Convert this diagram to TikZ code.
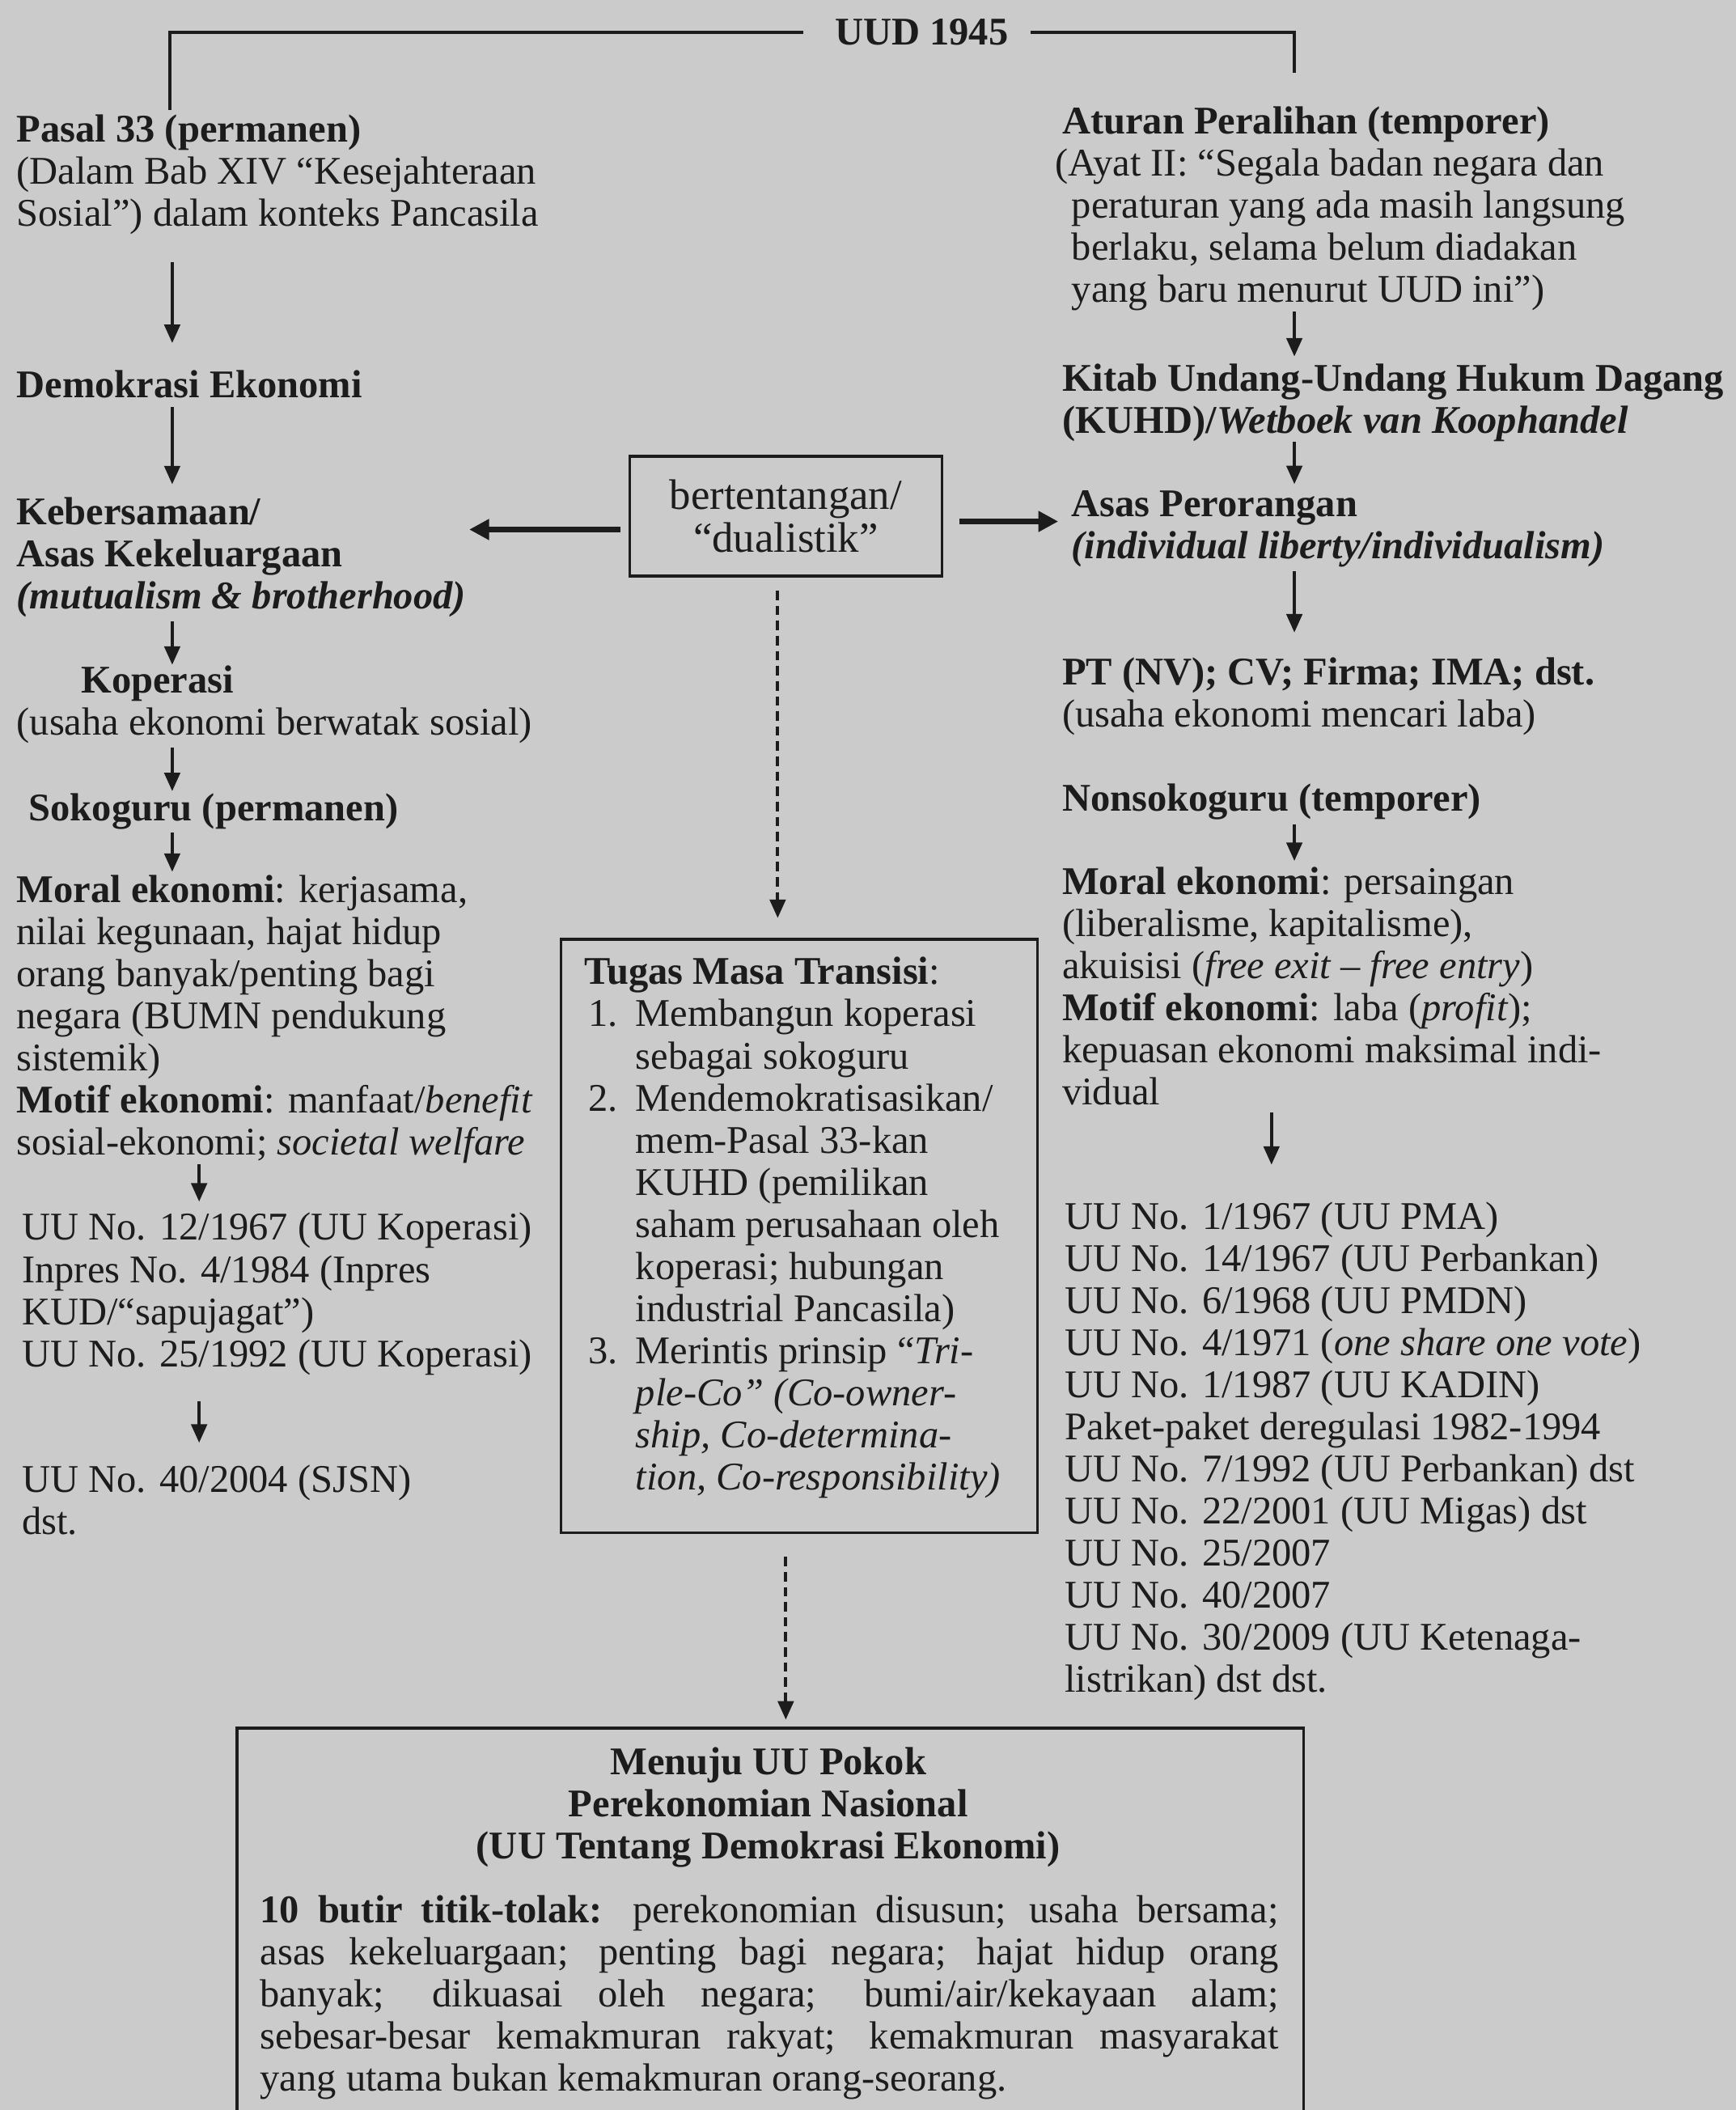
\documentclass[tikz,border=0pt]{standalone}
\usepackage{fontspec}
\setmainfont{Liberation Serif}
\usetikzlibrary{arrows.meta, positioning, calc}
\definecolor{paper}{RGB}{203,203,203}
\definecolor{ink}{RGB}{28,28,28}
\newcommand{\teks}{\fontsize{13.8}{14.8}\selectfont}
\newcommand{\butir}[1]{\hspace*{1.4pt}\makebox[16.6pt][l]{#1}}
\newcommand{\lanjut}{\hspace*{18pt}}

\begin{document}
\begin{tikzpicture}[
            x=0.016628cm, y=-0.016628cm,
            txt/.style={font=\teks, text=ink, inner sep=0pt, align=left, anchor=north west},
            frame/.style={draw=ink, line width=1pt, inner sep=0pt},
            flow/.style={-{Triangle[length=6.5pt,width=5.5pt]}, line width=1.1pt, draw=ink},
            thickflow/.style={-{Triangle[length=7pt,width=7pt]}, line width=1.8pt, draw=ink},
            dashflow/.style={flow, dash pattern=on 3.3pt off 2pt},
            rule/.style={line width=1.1pt, draw=ink},
        ]
            % Background
            \useasboundingbox (0,0) rectangle (1290,1568);
            \fill[paper] (0,0) rectangle (1290,1568);

            % Arrow columns
            \coordinate (colL) at (128,0);
            \coordinate (colLb) at (148,0);
            \coordinate (colR) at (962,0);
            \coordinate (colRb) at (945,0);

            % Top
            \node[font=\teks\bfseries, text=ink, inner sep=0pt] (uud) at (685,24) {UUD 1945};

            % Left column
            \node[txt] (pasal) at (12,85) {\textbf{Pasal 33 (permanen)}\\(Dalam Bab XIV “Kesejahteraan\\Sosial”) dalam konteks Pancasila};
            \node[txt] (demo) at (12,275) {\textbf{Demokrasi Ekonomi}};
            \node[txt] (keber) at (12,369) {\textbf{Kebersamaan/}\\\textbf{Asas Kekeluargaan}\\\textbf{\textit{(mutualism \& brotherhood)}}};
            \node[txt] (kop) at (12,494) {\hspace*{22.7pt}\textbf{Koperasi}\\(usaha ekonomi berwatak sosial)};
            \node[txt] (soko) at (21,589) {\textbf{Sokoguru (permanen)}};
            \node[txt] (moralL) at (12,650) {\textbf{Moral ekonomi}: kerjasama,\\nilai kegunaan, hajat hidup\\orang banyak/penting bagi\\negara (BUMN pendukung\\sistemik)\\\textbf{Motif ekonomi}: manfaat/\textit{benefit}\\sosial-ekonomi; \textit{societal welfare}};
            \node[txt] (uuL) at (16,901) {UU No. 12/1967 (UU Koperasi)\\Inpres No. 4/1984 (Inpres\\KUD/“sapujagat”)\\UU No. 25/1992 (UU Koperasi)};
            \node[txt] (sjsn) at (16,1088) {UU No. 40/2004 (SJSN)\\dst.};

            % Right column
            \node[txt] (atur) at (784,79) {\hspace*{2.4pt}\textbf{Aturan Peralihan (temporer)}\\(Ayat II: “Segala badan negara dan\\\hspace*{5.7pt}peraturan yang ada masih langsung\\\hspace*{5.7pt}berlaku, selama belum diadakan\\\hspace*{5.7pt}yang baru menurut UUD ini”)};
            \node[txt] (kitab) at (789,270) {\textbf{Kitab Undang-Undang Hukum Dagang}\\\textbf{(KUHD)/\textit{Wetboek van Koophandel}}};
            \node[txt] (asas) at (796,364) {\textbf{Asas Perorangan}\\\textbf{\textit{(individual liberty/individualism)}}};
            \node[txt] (pt) at (789,488) {\textbf{PT (NV); CV; Firma; IMA; dst.}\\(usaha ekonomi mencari laba)};
            \node[txt] (non) at (789,582) {\textbf{Nonsokoguru (temporer)}};
            \node[txt] (moralR) at (789,644) {\textbf{Moral ekonomi}: persaingan\\(liberalisme, kapitalisme),\\akuisisi (\textit{free exit – free entry})\\\textbf{Motif ekonomi}: laba (\textit{profit});\\kepuasan ekonomi maksimal indi-\\vidual};
            \node[txt] (uuR) at (791,893) {UU No. 1/1967 (UU PMA)\\UU No. 14/1967 (UU Perbankan)\\UU No. 6/1968 (UU PMDN)\\UU No. 4/1971 (\textit{one share one vote})\\UU No. 1/1987 (UU KADIN)\\Paket-paket deregulasi 1982-1994\\UU No. 7/1992 (UU Perbankan) dst\\UU No. 22/2001 (UU Migas) dst\\UU No. 25/2007\\UU No. 40/2007\\UU No. 30/2009 (UU Ketenaga-\\listrikan) dst dst.};

            % Middle boxes
            \node[frame, font=\fontsize{15}{15.2}\selectfont, text=ink, align=center, minimum width=3.858cm, minimum height=1.48cm] (dual) at (584,383.5) {bertentangan/\\“dualistik”};
            \node[frame, anchor=north west, minimum width=5.886cm, minimum height=7.333cm] (tugas) at (416,697) {};
            \node[txt] (tugasisi) at (434,711) {\textbf{Tugas Masa Transisi}:\\
                \butir{1.}Membangun koperasi\\
                \lanjut sebagai sokoguru\\
                \butir{2.}Mendemokratisasikan/\\
                \lanjut mem-Pasal 33-kan\\
                \lanjut KUHD (pemilikan\\
                \lanjut saham perusahaan oleh\\
                \lanjut koperasi; hubungan\\
                \lanjut industrial Pancasila)\\
                \butir{3.}Merintis prinsip “\textit{Tri-}\\
                \lanjut\textit{ple-Co” (Co-owner-}\\
                \lanjut\textit{ship, Co-determina-}\\
                \lanjut\textit{tion, Co-responsibility)}};

            % Bottom box
            \node[frame, anchor=north west, minimum width=13.186cm, minimum height=4.855cm] (pokok) at (175,1283) {};
            \node[font=\teks\bfseries, text=ink, inner sep=0pt, align=center, anchor=north] (pokokjudul) at (571,1298) {Menuju UU Pokok\\Perekonomian Nasional\\(UU Tentang Demokrasi Ekonomi)};
            \node[txt, text width=12.587cm, align=justify] (pokokisi) at (193,1408) {\tolerance=9999\hbadness=10000
                \textbf{10 butir titik-tolak:} perekonomian disusun; usaha bersama;\linebreak
                asas kekeluargaan; penting bagi negara; hajat hidup orang\linebreak
                banyak; dikuasai oleh negara; bumi/air/kekayaan alam;\linebreak
                sebesar-besar kemakmuran rakyat; kemakmuran masyarakat\linebreak
                yang utama bukan kemakmuran orang-seorang.};

            % UUD 1945 branches
            \draw[rule, shorten <=11pt] (uud.west) -| ($(pasal.north west)+(114,-3)$);
            \draw[rule, shorten <=7.5pt] (uud.east) -| ($(atur.north west)+(178,-25)$);

            % Left flow
            \draw[flow, shorten <=9.5pt, shorten >=9.5pt] (pasal.south -| colL) -- (demo.north -| colL);
            \draw[flow, shorten <=3pt, shorten >=4.3pt] (demo.south -| colL) -- (keber.north -| colL);
            \draw[flow, shorten <=1.4pt] (keber.south -| colL) -- (kop.north -| colL);
            \draw[flow, shorten <=1.4pt, shorten >=0.5pt] (kop.south -| colL) -- (soko.north -| colL);
            \draw[flow, shorten <=1pt, shorten >=1pt] (soko.south -| colL) -- (moralL.north -| colL);
            \draw[flow, shorten >=3.8pt] (moralL.south -| colLb) -- (uuL.north -| colLb);
            \draw[flow, shorten <=9pt, shorten >=7.5pt] (uuL.south -| colLb) -- (sjsn.north -| colLb);

            % Right flow
            \draw[flow, shorten >=2.4pt] (atur.south -| colR) -- (kitab.north -| colR);
            \draw[flow, shorten >=2pt] (kitab.south -| colR) -- (asas.north -| colR);
            \draw[flow, shorten <=1.4pt, shorten >=8.5pt] (asas.south -| colR) -- (pt.north -| colR);
            \draw[flow, shorten <=1.4pt, shorten >=2pt] (non.south -| colR) -- (moralR.north -| colR);
            \draw[flow, shorten <=2.4pt, shorten >=13pt] (moralR.south -| colRb) -- (uuR.north -| colRb);

            % Dualism arrows
            \draw[thickflow, shorten <=2.8pt, shorten >=1pt] ($(dual.west)+(0,10)$) -- ($(dual.west -| keber.east)+(0,10)$);
            \draw[thickflow, shorten <=5.7pt, shorten >=4.5pt] ($(dual.east)+(0,4)$) -- ($(dual.east -| asas.west)+(0,4)$);
            \draw[dashflow, shorten <=4.7pt, shorten >=7pt] ($(dual.south)+(-6,0)$) -- ($(dual.south |- tugas.north)+(-6,0)$);
            \draw[dashflow, shorten <=8pt, shorten >=2.4pt] (dual.south |- tugas.south) -- (dual.south |- pokok.north);
        \end{tikzpicture}
\end{document}
